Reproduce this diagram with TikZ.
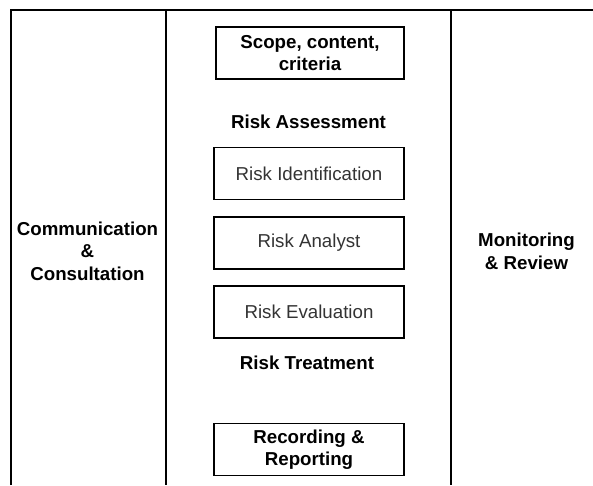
\documentclass[tikz,border=0pt]{standalone}
\usepackage{fontspec}
\setmainfont{Liberation Sans}
\begin{document}
\begin{tikzpicture}[x=1pt,y=-1pt,
  frame/.style={line width=1.5pt,draw=black},
  stagebox/.style={draw=black,line width=1.5pt,minimum width=190pt,minimum height=52pt,
    inner sep=0pt,align=center,font=\fontsize{18.7}{22.5}\selectfont,text=black!80},
  boldbox/.style={stagebox,font=\fontsize{18.7}{22.5}\selectfont\bfseries,text=black},
  heading/.style={font=\fontsize{18.7}{22.5}\selectfont\bfseries,align=center,inner sep=0pt}]
\useasboundingbox (0,0) rectangle (593,485);

% frame lines
\coordinate (tl) at (11,10);
\coordinate (tr) at (593,10);
\coordinate (bl) at (11,485);
\coordinate (d1t) at (166,10);
\coordinate (d1b) at (166,485);
\coordinate (d2t) at (451,10);
\coordinate (d2b) at (451,485);
\draw[frame] (bl) -- (tl) -- (tr);
\draw[frame] (d1t) -- (d1b);
\draw[frame] (d2t) -- (d2b);

% side columns
\node[heading] (comm) at (87.5,251) {Communication\\\&\\Consultation};
\node[heading] (mon) at (526.5,251.5) {Monitoring\\\& Review};

% middle column
\node[boldbox,minimum width=188pt] (scope) at (310,53) {Scope, content,\\criteria};
\node[heading] (assess) at (308.5,122) {Risk Assessment};
\node[stagebox] (ident) at (309,173.5) {Risk Identification};
\node[stagebox] (analyst) at (309,243) {Risk Analyst};
\node[stagebox] (eval) at (309,312) {Risk Evaluation};
\node[heading] (treat) at (307,363) {Risk Treatment};
\node[boldbox] (record) at (309,449.5) {Recording \&\\Reporting};
\end{tikzpicture}
\end{document}
